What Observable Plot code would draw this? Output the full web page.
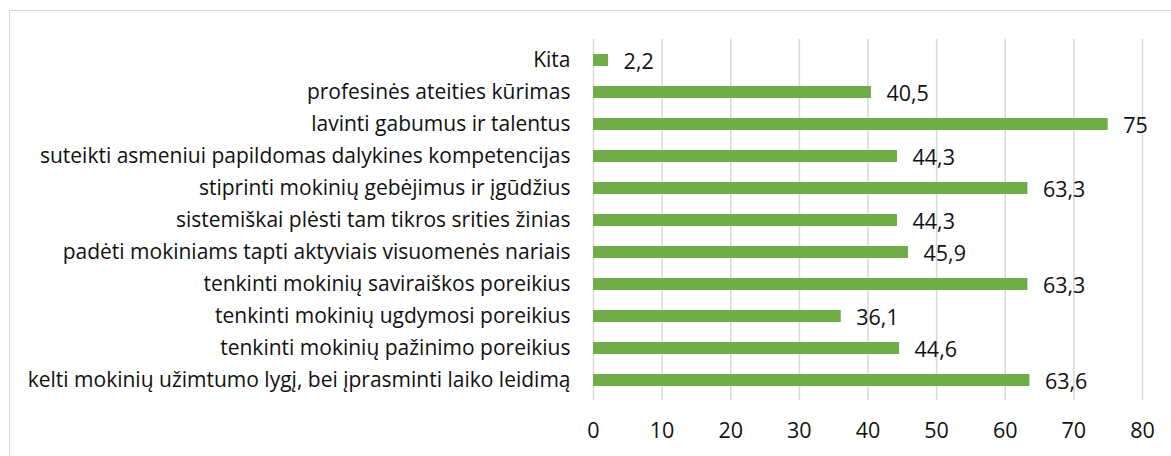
<!DOCTYPE html>
<html>
<head>
<meta charset="utf-8">
<script src="https://cdn.jsdelivr.net/npm/d3@7"></script>
<script src="https://cdn.jsdelivr.net/npm/@observablehq/plot@0.6"></script>
<style>
  html, body { margin: 0; padding: 0; background: #fff; overflow: hidden; }
  #wrap { position: relative; width: 1171px; height: 456px; }
  #border { position: absolute; left: 9px; top: 10px; width: 1200px; height: 500px;
            border: 1.5px solid #d9d9d9; box-sizing: border-box; pointer-events: none; }
</style>
</head>
<body>
<div id="wrap"><div id="border"></div></div>
<script>
const categories = [
  "Kita",
  "profesinės ateities kūrimas",
  "lavinti gabumus ir talentus",
  "suteikti asmeniui papildomas dalykines kompetencijas",
  "stiprinti mokinių gebėjimus ir įgūdžius",
  "sistemiškai plėsti tam tikros srities žinias",
  "padėti mokiniams tapti aktyviais visuomenės nariais",
  "tenkinti mokinių saviraiškos poreikius",
  "tenkinti mokinių ugdymosi poreikius",
  "tenkinti mokinių pažinimo poreikius",
  "kelti mokinių užimtumo lygį, bei įprasminti laiko leidimą"
];
const values = [2.2, 40.5, 75, 44.3, 63.3, 44.3, 45.9, 63.3, 36.1, 44.6, 63.6];
const xTicks = [0, 10, 20, 30, 40, 50, 60, 70, 80];

const data = categories.map((c, i) => ({category: c, value: values[i]}));
const fmt = v => String(v).replace(".", ",");
const font = "'Open Sans', sans-serif";

const chart = Plot.plot({
  width: 1171,
  height: 456,
  marginLeft: 593,
  marginRight: 29,
  marginTop: 39,
  marginBottom: 56,
  style: {fontFamily: font, fontSize: "20px", color: "#111", background: "transparent"},
  x: {domain: [0, 80], ticks: xTicks, label: null, axis: null},
  y: {domain: categories, label: null, paddingInner: 0.634, paddingOuter: 0.317, axis: null},
  marks: [
    Plot.ruleX(xTicks, {stroke: "#d9d9d9", strokeWidth: 1.5}),
    Plot.barX(data, {y: "category", x: "value", fill: "#70AD47"}),
    Plot.text(data, {y: "category", x: "value", text: d => fmt(d.value), textAnchor: "start", dx: 15, dy: 1.5, fill: "#111", fontSize: 21.5}),
    Plot.axisY({tickSize: 0, tickPadding: 23, fontSize: 21, fill: "#111"}),
    Plot.axisX({ticks: xTicks, tickSize: 0, tickPadding: 22, fontSize: 21.5, fill: "#111", label: null})
  ]
});
chart.style.position = "absolute";
chart.style.left = "0";
chart.style.top = "0";
document.getElementById("wrap").appendChild(chart);
</script>
</body>
</html>
